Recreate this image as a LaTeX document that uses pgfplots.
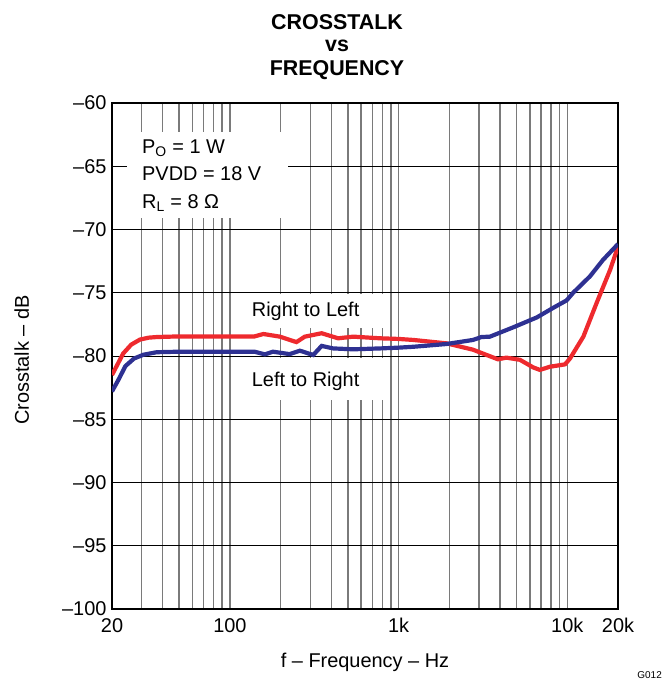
\documentclass[border=0pt]{standalone}
\usepackage{fontspec}
\setmainfont{Liberation Sans}
\usepackage{pgfplots}
\pgfplotsset{compat=1.18}
\definecolor{rlred}{HTML}{EE2A2E}
\definecolor{lrblue}{HTML}{2E3192}
\definecolor{vgrid}{HTML}{7A7A7A}
\newcommand{\chartfont}{\fontsize{20}{24}\selectfont}
\begin{document}
\begin{tikzpicture}[x=1bp,y=1bp]
\path[use as bounding box] (0,0) rectangle (664,-681);
\begin{axis}[
  at={(112bp,-609bp)}, anchor=south west,
  scale only axis, width=506bp, height=506bp,
  xmode=log, xmin=20, xmax=20000, ymin=-100, ymax=-60,
  xtick={20,100,1000,10000,20000},
  xticklabels={20,100,1k,10k,20k},
  minor xtick={30,40,50,60,70,80,90,200,300,400,500,600,700,800,900,
               2000,3000,4000,5000,6000,7000,8000,9000},
  ytick={-100,-95,...,-60},
  yticklabels={\textendash100,\textendash95,\textendash90,\textendash85,\textendash80,
               \textendash75,\textendash70,\textendash65,\textendash60},
  xmajorgrids, xminorgrids, ymajorgrids,
  major x grid style={vgrid, line width=1.4bp},
  minor x grid style={vgrid, line width=1.4bp},
  major y grid style={black, line width=1bp},
  major tick length=0pt, minor tick length=0pt,
  axis line style={line width=2.4bp},
  tick label style={font=\chartfont},
  xticklabel style={yshift=-6bp},
  yticklabel style={xshift=-2bp},
]
% Right to Left
\addplot[rlred, line width=4.2bp] coordinates {
  (20,-81.5)(23.3,-79.8)(26,-79.1)(29.3,-78.7)(33,-78.55)(36.8,-78.5)(50,-78.45)
  (80,-78.45)(120,-78.45)(140,-78.45)(158,-78.26)(198,-78.47)(248,-78.9)(278,-78.47)
  (350,-78.2)(438,-78.6)(539,-78.47)(777,-78.6)(1000,-78.65)(1222,-78.73)
  (1926,-79.0)(2760,-79.5)(3880,-80.26)(4360,-80.13)(5240,-80.3)(6280,-80.9)
  (6890,-81.1)(7880,-80.85)(9700,-80.66)(10380,-80.2)(12460,-78.47)(14940,-75.8)
  (17940,-73.2)(20000,-71.36)
};
% Left to Right
\addplot[lrblue, line width=4.2bp] coordinates {
  (20,-82.8)(22,-81.8)(24,-80.8)(27,-80.2)(30.7,-79.9)(36.8,-79.7)(50,-79.66)
  (80,-79.66)(120,-79.66)(140,-79.66)(161,-79.87)(180,-79.66)(226,-79.85)
  (260,-79.58)(312,-79.92)(350,-79.2)(409,-79.4)(539,-79.47)(777,-79.4)
  (1000,-79.34)(1222,-79.27)(1926,-79.05)(2760,-78.73)(3100,-78.5)(3480,-78.47)
  (4790,-77.73)(6600,-76.95)(8240,-76.2)(9920,-75.6)(10840,-75.0)(13640,-73.7)
  (16300,-72.4)(20000,-71.15)
};
\end{axis}
% white boxes over the grid behind the texts
\fill[white] (127,-132) rectangle (288,-218);
\fill[white] (240,-294) rectangle (387,-328);
\fill[white] (240,-358) rectangle (387,-400);
\node[anchor=base west, inner sep=0pt, font=\chartfont] at (142,-153) {P\textsubscript{O} = 1 W};
\node[anchor=base west, inner sep=0pt, font=\chartfont] at (142,-180.7) {PVDD = 18 V};
\node[anchor=base west, inner sep=0pt, font=\chartfont] at (142,-208) {R\textsubscript{L} = 8 Ω};
\node[anchor=base west, inner sep=0pt, font=\chartfont] at (251.7,-316.7) {Right to Left};
\node[anchor=base west, inner sep=0pt, font=\chartfont] at (251.7,-386.7) {Left to Right};
% titles and axis labels
\node[font=\fontsize{21.5}{26}\selectfont\bfseries] at (337,-22) {CROSSTALK};
\node[font=\fontsize{21.5}{26}\selectfont\bfseries] at (337,-46) {vs};
\node[font=\fontsize{21.5}{26}\selectfont\bfseries] at (337,-70) {FREQUENCY};
\node[font=\chartfont, rotate=90] at (21.7,-360) {Crosstalk \textendash{} dB};
\node[font=\chartfont] at (365,-662) {f \textendash{} Frequency \textendash{} Hz};
\node[font=\fontsize{10}{12}\selectfont, anchor=south east, inner sep=0pt] at (662,-679) {G012};
\end{tikzpicture}
\end{document}
